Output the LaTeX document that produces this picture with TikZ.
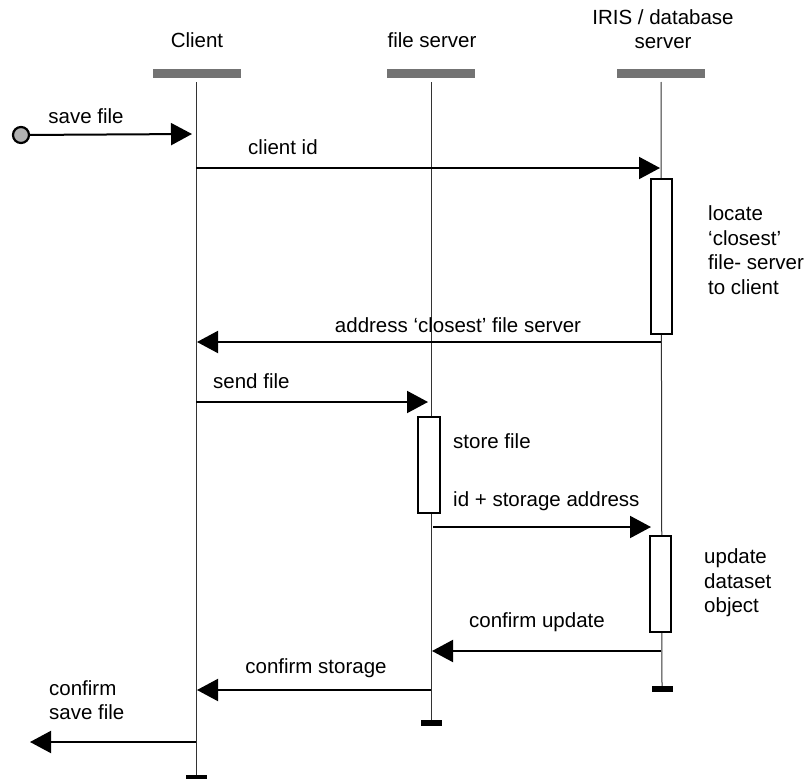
\documentclass[tikz,border=0pt]{standalone}
\usepackage{fontspec}
\setmainfont{Liberation Sans}
\usetikzlibrary{arrows.meta}
\begin{document}
\begin{tikzpicture}[x=1pt,y=-1pt,
  lbl/.style={font=\fontsize{20.5}{24.5}\selectfont, inner sep=0pt, align=left},
  headbox/.style={draw=none, fill=black!55, minimum width=88pt, minimum height=9pt, inner sep=0pt},
  lifeline/.style={line width=1pt, black!80},
  endbar/.style={fill=black, draw=none, minimum width=21pt, minimum height=6pt, inner sep=0pt},
  actbox/.style={draw=black, line width=1.8pt, fill=white, inner sep=0pt},
  msg/.style={line width=2pt, -{Triangle[length=21pt,width=22pt]}},
  startdot/.style={circle, draw=black, line width=2.2pt, fill=black!30, minimum size=16pt, inner sep=0pt}
]
\clip (0,0) rectangle (812,779);
\fill[white] (0,0) rectangle (812,779);

% headers
\node[lbl] (tClient) at (197,40) {Client};
\node[lbl] (tFS) at (432,40) {file server};
\node[lbl, align=center] (tIRIS) at (663,29) {IRIS / database\\server};

\node[headbox] (hC) at (197,73) {};
\node[headbox] (hF) at (431,73) {};
\node[headbox] (hI) at (661,73) {};

% lifeline ends
\node[endbar] (eC) at (196,778) {};
\node[endbar] (eF) at (431,723) {};
\node[endbar] (eI) at (662,689) {};

\draw[lifeline] (196,82) -- (eC.north);
\draw[lifeline] (431,82) -- (eF.north);
\draw[lifeline] (661,82) -- (eI.north);

% activation boxes
\node[actbox, minimum width=21pt, minimum height=155pt] (a1) at (661.5,256.5) {};
\node[actbox, minimum width=22pt, minimum height=96pt] (a2) at (429,465) {};
\node[actbox, minimum width=21pt, minimum height=96pt] (a3) at (660.5,584) {};

% start
\node[startdot] (start) at (21,135) {};

% coordinates on lifelines
\coordinate (c0) at (192,134);
\coordinate (c1s) at (196,168);
\coordinate (c1e) at (660,168);
\coordinate (c2s) at (661,342);
\coordinate (c2e) at (197,342);
\coordinate (c3s) at (196,402);
\coordinate (c3e) at (428,402);
\coordinate (c4s) at (433,527);
\coordinate (c4e) at (651,527);
\coordinate (c5s) at (661,651);
\coordinate (c5e) at (432,651);
\coordinate (c6s) at (431,690);
\coordinate (c6e) at (197,690);
\coordinate (c7s) at (196,742);
\coordinate (c7e) at (30,742);

% messages
\draw[msg] (start) -- (c0);
\draw[msg] (c1s) -- (c1e);
\draw[msg] (c2s) -- (c2e);
\draw[msg] (c3s) -- (c3e);
\draw[msg] (c4s) -- (c4e);
\draw[msg] (c5s) -- (c5e);
\draw[msg] (c6s) -- (c6e);
\draw[msg] (c7s) -- (c7e);

% labels
\node[lbl] (l0) at (86,116) {save file};
\node[lbl, anchor=west] (l1) at (248,147) {client id};
\node[lbl] (l2) at (458,325) {address ‘closest’ file server};
\node[lbl, anchor=west] (l3) at (213,381) {send file};
\node[lbl, anchor=west] (l4) at (453,441) {store file};
\node[lbl, anchor=west] (l5) at (453,501) {id + storage address};
\node[lbl] (l6) at (537,622) {confirm update};
\node[lbl] (l7) at (316,668) {confirm storage};
\node[lbl, anchor=west] (l8) at (49,700) {confirm\\save file};
\node[lbl, anchor=west] (l9) at (708,250) {locate\\‘closest’\\file- server\\to client};
\node[lbl, anchor=west] (l10) at (704,583) {update\\dataset\\object};
\end{tikzpicture}
\end{document}
